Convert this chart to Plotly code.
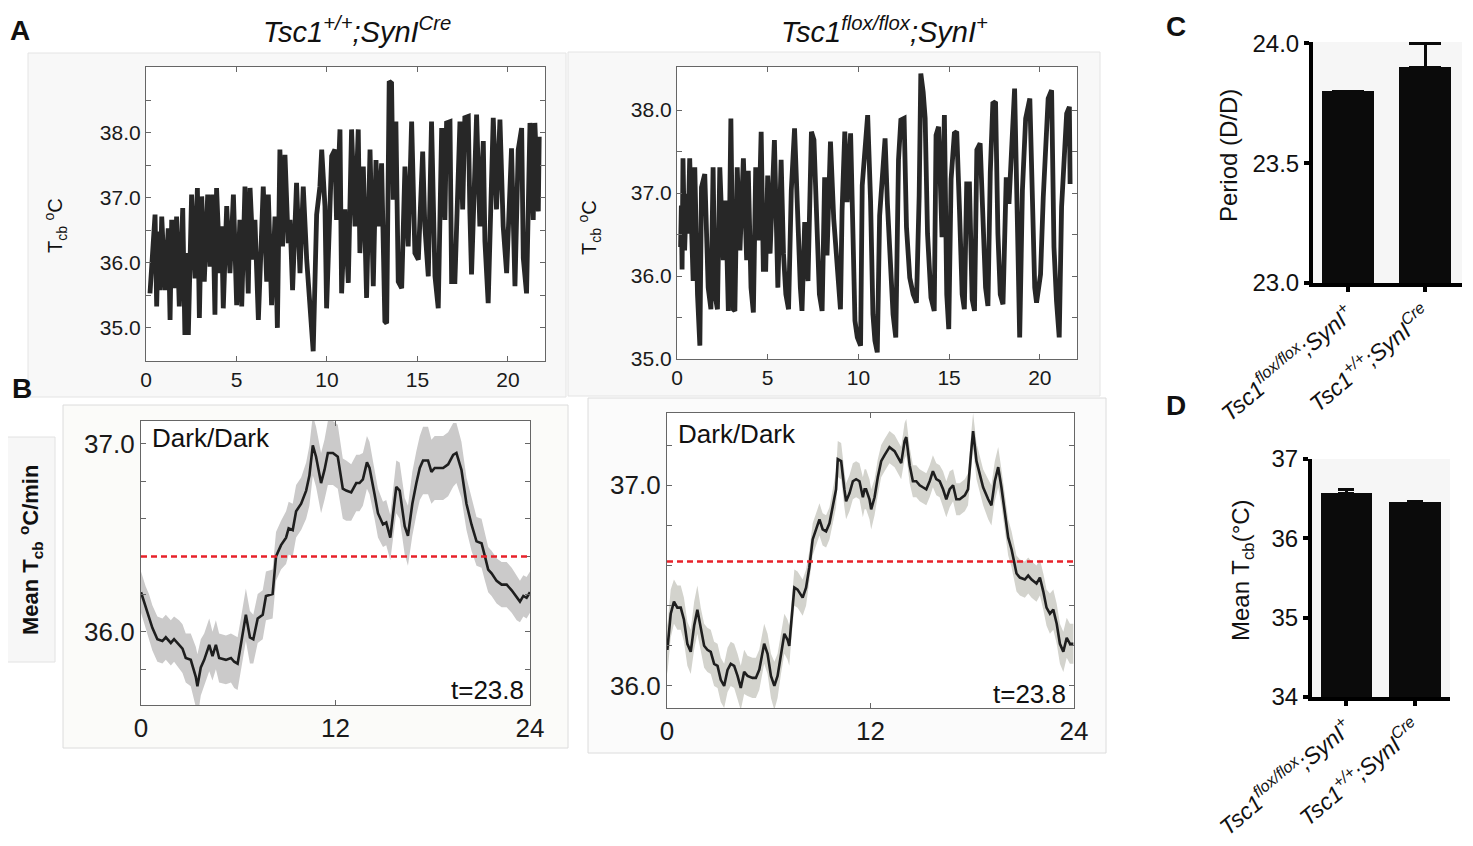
import plotly.graph_objects as go

W, H = 1473, 846
FONT = "Liberation Sans, Arial, sans-serif"

# ---------------- Panel A: raw core body temperature (days) ----------------
a_left_day = [0.22,0.50,0.59,0.68,0.77,0.87,1.05,1.23,1.33,1.42,1.60,1.69,1.84,2.03,2.15,2.25,2.34,2.52,2.71,2.84,
              2.95,3.08,3.22,3.41,3.54,3.68,3.81,3.90,4.09,4.18,4.27,4.46,4.64,4.83,5.01,5.19,5.29,5.47,5.65,5.75,
              5.93,6.02,6.21,6.48,6.67,6.76,6.94,7.13,7.26,7.40,7.55,7.68,7.86,7.96,8.10,8.32,8.51,8.69,8.88,9.06,
              9.24,9.43,9.61,9.71,9.89,9.98,10.17,10.26,10.44,10.53,10.72,10.81,10.99,11.18,11.36,11.55,11.73,11.82,12.01,12.19,
              12.38,12.56,12.71,12.84,13.02,13.20,13.30,13.44,13.57,13.66,13.81,13.94,14.13,14.31,14.49,14.68,14.86,15.05,15.29,15.41,
              15.60,15.78,15.97,16.15,16.34,16.52,16.61,16.80,16.89,17.07,17.35,17.50,17.62,17.81,17.90,17.99,18.27,18.45,18.64,18.73,
              18.91,19.19,19.37,19.56,19.74,19.93,20.20,20.39,20.57,20.76,20.85,21.03,21.22,21.40,21.49,21.68,21.73]
a_left_temp = [35.53,36.74,35.33,36.48,35.58,36.71,35.58,36.53,35.12,36.66,35.61,36.71,35.33,36.84,34.89,36.15,34.89,37.05,35.76,37.15,
               35.15,37.02,35.71,37.05,35.94,37.05,35.20,37.15,35.84,36.56,35.30,36.87,35.84,37.05,35.35,36.66,35.33,37.17,35.53,37.15,
               36.05,36.66,35.12,37.17,35.71,37.05,35.35,36.71,35.00,37.74,36.25,37.66,36.30,36.66,35.58,37.23,35.84,37.17,36.05,35.20,
               34.64,36.74,37.17,37.74,36.87,35.30,37.33,37.64,37.74,36.66,38.05,35.53,36.82,35.69,38.05,36.56,38.05,36.15,37.48,35.46,
               37.74,35.64,37.58,36.56,37.53,35.10,35.07,38.79,38.76,36.97,38.17,35.71,35.61,37.48,36.25,38.17,36.15,36.05,37.71,36.56,
               35.79,38.17,35.79,35.30,38.07,36.66,38.15,38.17,35.71,35.71,38.17,36.82,38.23,38.25,36.76,35.82,38.28,36.56,37.87,36.33,
               35.38,38.23,36.82,38.20,36.56,35.84,37.76,35.64,37.74,38.07,36.07,35.53,38.15,36.66,38.15,36.79,37.94]

a_right_day = [0.20,0.24,0.28,0.33,0.42,0.52,0.61,0.70,0.79,0.89,0.98,1.13,1.26,1.35,1.53,1.72,1.87,1.99,2.09,2.23,
               2.36,2.55,2.68,2.83,2.97,3.10,3.19,3.32,3.47,3.66,3.84,3.93,4.08,4.21,4.34,4.49,4.64,4.76,4.89,5.00,
               5.13,5.37,5.56,5.74,5.87,6.00,6.15,6.30,6.48,6.67,6.80,6.89,7.04,7.22,7.41,7.55,7.72,7.85,8.00,8.14,
               8.27,8.46,8.64,8.83,9.01,9.10,9.25,9.38,9.57,9.70,9.81,9.94,10.12,10.21,10.36,10.51,10.67,10.80,10.91,11.04,
               11.17,11.32,11.47,11.60,11.78,11.91,12.06,12.21,12.34,12.52,12.65,12.83,13.02,13.20,13.35,13.44,13.57,13.68,13.81,14.00,
               14.18,14.28,14.42,14.61,14.74,14.87,14.98,15.11,15.29,15.42,15.57,15.72,15.84,15.97,16.12,16.27,16.40,16.53,16.71,16.86,
               17.01,17.14,17.27,17.41,17.56,17.69,17.82,17.97,18.15,18.30,18.49,18.61,18.80,18.89,19.04,19.22,19.45,19.59,19.72,19.82,
               20.04,20.19,20.46,20.65,20.78,20.92,21.07,21.20,21.38,21.48,21.63,21.67]
a_right_temp = [36.35,36.85,36.08,37.42,36.31,36.99,36.51,37.42,36.67,35.94,37.31,35.78,35.16,37.07,37.23,35.86,35.60,37.31,35.78,35.60,
                37.31,36.19,36.91,35.58,37.90,35.60,35.58,37.31,36.31,37.42,36.19,37.27,35.86,35.56,37.31,36.43,37.74,36.08,36.08,37.21,
                36.27,37.64,35.86,37.40,36.27,35.78,35.60,37.03,37.78,36.51,35.86,35.58,36.65,35.94,37.74,37.64,36.75,35.78,35.58,37.19,
                36.25,37.62,36.69,36.10,35.60,36.79,37.74,36.89,37.72,36.51,35.46,35.26,35.16,37.09,37.56,37.94,36.91,35.54,35.22,35.08,
                36.73,37.23,37.66,36.87,36.10,35.54,35.26,37.40,37.88,37.90,36.59,35.98,35.78,35.68,36.97,38.44,38.22,37.90,36.51,35.74,
                35.58,37.70,37.80,36.47,37.94,35.78,35.36,37.17,37.72,37.74,36.81,35.78,35.60,37.11,37.11,35.72,35.58,37.52,37.60,36.69,
                35.86,35.64,37.25,38.08,38.10,36.51,35.78,35.66,37.19,36.87,37.94,38.26,36.27,35.26,37.03,37.90,38.14,36.79,35.86,35.68,
                36.02,36.95,38.14,38.24,36.35,35.70,35.26,36.83,37.48,37.96,38.04,37.11]

a_x_ticks = [0, 5, 10, 15, 20]
a_left_yticks = [35.0, 36.0, 37.0, 38.0]
a_left_minor = [35.5, 36.5, 37.5, 38.5]
a_right_yticks = [35.0, 36.0, 37.0, 38.0]
a_right_minor = [35.5, 36.5, 37.5]

# ---------------- Panel B: mean daily profile (hours) ----------------
b_left_hour = [0,0.29,0.49,0.70,1.01,1.32,1.53,1.84,2.04,2.35,2.56,2.76,
               3.07,3.38,3.48,3.69,3.90,4.21,4.41,4.62,4.82,5.24,5.55,5.75,5.96,6.16,6.47,6.72,6.93,7.20,7.51,7.71,
               8.12,8.33,8.64,8.95,9.11,9.36,9.57,9.88,
               10.19,10.39,10.60,10.80,11.11,11.32,11.53,11.84,12.14,12.45,12.66,12.97,
               13.28,13.48,13.69,13.94,14.10,14.41,14.62,
               14.93,15.13,15.38,15.59,15.75,15.96,16.27,16.47,16.74,
               16.99,17.20,17.40,17.71,17.92,18.12,18.33,18.64,18.95,19.26,19.46,19.77,
               20.08,20.39,20.70,21.01,21.22,21.42,21.63,21.94,22.25,22.56,22.87,23.18,23.38,23.59,23.79,24.0]
b_left_mean = [36.21,36.13,36.08,36.02,35.96,35.95,35.97,35.94,35.96,35.93,35.91,35.86,
               35.85,35.76,35.71,35.81,35.85,35.93,35.87,35.93,35.86,35.85,35.86,35.84,35.83,35.93,36.09,35.97,35.96,36.07,36.09,36.19,
               36.20,36.40,36.46,36.50,36.55,36.54,36.64,36.68,
               36.75,36.83,36.99,36.93,36.79,36.86,36.95,36.95,36.93,36.76,36.75,36.74,
               36.79,36.79,36.81,36.90,36.87,36.73,36.63,
               36.57,36.58,36.50,36.66,36.77,36.75,36.56,36.51,36.68,
               36.79,36.87,36.91,36.91,36.85,36.87,36.87,36.87,36.89,36.94,36.95,36.86,
               36.68,36.57,36.48,36.47,36.40,36.33,36.31,36.27,36.25,36.25,36.22,36.18,36.16,36.19,36.18,36.21]
b_left_sem = [0.11,0.11,0.12,0.12,0.12,0.12,0.12,0.12,0.12,0.13,0.13,0.13,
              0.14,0.16,0.17,0.15,0.14,0.14,0.13,0.13,0.13,0.13,0.13,0.14,0.14,0.14,0.14,0.14,0.13,0.13,0.13,0.13,
              0.13,0.13,0.13,0.14,0.14,0.14,0.14,0.14,
              0.15,0.16,0.16,0.16,0.16,0.16,0.17,0.17,0.17,0.16,0.16,0.15,
              0.15,0.15,0.14,0.14,0.14,0.13,0.13,
              0.12,0.12,0.12,0.13,0.14,0.15,0.15,0.16,0.17,
              0.17,0.17,0.18,0.18,0.17,0.17,0.17,0.17,0.17,0.17,0.16,0.15,
              0.14,0.14,0.13,0.13,0.13,0.12,0.12,0.12,0.12,0.12,0.12,0.12,0.11,0.11,0.11,0.11]
b_left_level = 36.40

b_right_hour = [0.0,0.02,0.22,0.41,0.61,0.81,1.00,1.20,1.40,1.60,1.79,1.99,2.19,2.38,2.58,2.78,2.98,3.17,3.37,3.57,
                3.76,3.96,4.16,4.35,4.55,4.75,5.04,5.24,5.44,5.73,5.93,6.13,6.33,6.52,6.72,6.92,7.11,7.21,7.31,
                7.51,7.70,8.00,8.20,8.39,8.59,8.79,8.99,9.18,9.38,9.58,9.77,9.97,
                10.07,10.27,10.46,10.56,10.76,10.96,11.15,11.35,11.55,11.65,11.74,11.94,12.04,12.24,12.43,12.63,12.83,
                13.12,13.42,13.62,13.81,14.01,14.11,14.31,14.50,14.70,14.90,15.09,15.29,15.49,15.68,15.88,16.08,16.28,16.47,
                16.67,16.87,17.06,17.26,17.56,17.75,
                17.95,18.05,18.25,18.44,18.64,18.94,19.13,19.33,19.53,19.72,19.92,
                20.12,20.32,20.41,20.61,20.81,21.10,21.30,21.50,21.79,21.99,22.19,22.38,22.58,22.78,22.98,23.17,23.37,23.57,23.76,23.96]
b_right_mean = [36.20,36.18,36.36,36.42,36.39,36.39,36.33,36.21,36.17,36.30,36.38,36.28,36.20,36.18,36.17,36.11,36.10,36.03,36.00,36.08,
                36.11,36.10,36.05,35.99,36.07,36.05,36.04,36.04,36.08,36.21,36.16,36.05,36.00,36.05,36.16,36.26,36.23,36.20,36.30,
                36.49,36.48,36.44,36.49,36.59,36.73,36.78,36.83,36.78,36.77,36.81,36.89,36.98,
                37.13,37.12,36.98,36.92,36.96,37.02,37.03,37.02,36.94,36.98,36.98,36.93,36.88,36.94,37.04,37.12,37.15,
                37.19,37.17,37.14,37.11,37.22,37.24,37.10,37.02,37.02,37.00,36.99,36.98,37.02,37.07,37.03,37.02,36.98,36.93,
                36.98,37.00,36.93,36.93,36.95,36.98,
                37.18,37.27,37.12,37.06,36.99,36.93,36.90,37.02,37.09,36.99,36.86,
                36.74,36.68,36.64,36.56,36.54,36.53,36.55,36.53,36.51,36.54,36.47,36.39,36.36,36.38,36.31,36.21,36.17,36.24,36.21,36.21]
b_right_sem = [0.12,0.12,0.12,0.11,0.11,0.11,0.11,0.11,0.11,0.12,0.12,0.11,0.11,0.11,0.11,0.11,0.11,0.11,0.11,0.11,
               0.11,0.11,0.11,0.11,0.11,0.10,0.10,0.10,0.10,0.10,0.10,0.11,0.12,0.11,0.10,0.10,0.10,0.10,0.09,
               0.09,0.09,0.09,0.09,0.08,0.08,0.08,0.08,0.08,0.08,0.08,0.09,0.09,
               0.09,0.09,0.09,0.09,0.09,0.09,0.09,0.09,0.10,0.10,0.10,0.10,0.10,0.09,0.09,0.08,0.08,
               0.08,0.08,0.08,0.08,0.09,0.09,0.09,0.08,0.08,0.08,0.08,0.08,0.08,0.08,0.08,0.08,0.09,0.09,
               0.09,0.08,0.08,0.08,0.08,0.08,
               0.09,0.09,0.09,0.09,0.09,0.10,0.10,0.10,0.10,0.09,0.09,
               0.09,0.09,0.09,0.09,0.09,0.09,0.09,0.09,0.09,0.09,0.09,0.09,0.10,0.10,0.10,0.10,0.10,0.10,0.10,0.10]
b_right_level = 36.62

b_x_ticks = [0, 12, 24]
b_left_yticks = [36.0, 37.0]
b_left_minor = [35.8, 36.2, 36.4, 36.6, 36.8]
b_right_yticks = [36.0, 37.0]
b_right_minor = [36.2, 36.4, 36.6, 36.8, 37.2]
period_note = "t=23.8"

# ---------------- Panels C and D: bar charts ----------------
genotypes = ["<i>Tsc1<sup>flox/flox</sup>;SynI<sup>+</sup></i>",
             "<i>Tsc1<sup>+/+</sup>;SynI<sup>Cre</sup></i>"]
period_values = [23.80, 23.90]
period_err = [0.0, 0.10]
period_ticks = [23.0, 23.5, 24.0]
period_labels = ["23.0", "23.5", "24.0"]
mean_t_values = [36.57, 36.46]
mean_t_err = [0.04, 0.005]
mean_t_ticks = [34, 35, 36, 37]

titles = ["<i>Tsc1<sup>+/+</sup>;SynI<sup>Cre</sup></i>",
          "<i>Tsc1<sup>flox/flox</sup>;SynI<sup>+</sup></i>"]

# the page body adds an 8 px offset; positions below are given in screen pixels
OFF = 8


def fx(p):
    return (p - OFF) / W


def fy(p):
    return 1 - (p - OFF) / H


fig = go.Figure()

# Panel A traces
fig.add_trace(go.Scatter(x=a_left_day, y=a_left_temp, mode="lines",
                         line=dict(color="#272727", width=4.8), xaxis="x", yaxis="y", showlegend=False))
fig.add_trace(go.Scatter(x=a_right_day, y=a_right_temp, mode="lines",
                         line=dict(color="#272727", width=4.8), xaxis="x2", yaxis="y2", showlegend=False))

# Panel B bands + mean lines
for hrs, mean, sem, xa, ya, band in [(b_left_hour, b_left_mean, b_left_sem, "x3", "y3", "#cbcaca"),
                                     (b_right_hour, b_right_mean, b_right_sem, "x4", "y4", "#d3d3cd")]:
    n = min(len(hrs), len(mean), len(sem))
    hh = hrs[:n]
    lo = [m - s for m, s in zip(mean[:n], sem[:n])]
    hi = [m + s for m, s in zip(mean[:n], sem[:n])]
    fig.add_trace(go.Scatter(x=hh, y=lo, mode="lines", line=dict(width=0, color=band),
                             xaxis=xa, yaxis=ya, showlegend=False, hoverinfo="skip"))
    fig.add_trace(go.Scatter(x=hh, y=hi, mode="lines", line=dict(width=0, color=band), fill="tonexty",
                             fillcolor=band, xaxis=xa, yaxis=ya, showlegend=False, hoverinfo="skip"))
    fig.add_trace(go.Scatter(x=hh, y=mean[:n], mode="lines", line=dict(color="#1e1e1e", width=2.6),
                             xaxis=xa, yaxis=ya, showlegend=False))

# Panel C bars
fig.add_trace(go.Bar(x=[0, 1], y=period_values, width=0.675, marker=dict(color="#0b0b0b", line=dict(width=0)),
                     error_y=dict(type="data", array=period_err, symmetric=False, arrayminus=[0, 0],
                                  color="#0b0b0b", thickness=3, width=16),
                     xaxis="x5", yaxis="y5", showlegend=False))
# Panel D bars
fig.add_trace(go.Bar(x=[0, 1], y=mean_t_values, width=0.745, marker=dict(color="#0b0b0b", line=dict(width=0)),
                     error_y=dict(type="data", array=mean_t_err, symmetric=False, arrayminus=[0, 0],
                                  color="#0b0b0b", thickness=3, width=8),
                     xaxis="x6", yaxis="y6", showlegend=False))


def frame_axis(domain, rng, tickvals, size, anchor, minor_vals=None):
    d = dict(domain=domain, range=rng, tickvals=tickvals, ticktext=[("%.1f" % v) if isinstance(v, float) else str(v) for v in tickvals],
             ticks="inside", ticklen=5, tickwidth=1, tickcolor="#666666", showline=True, mirror="ticks",
             linecolor="#666666", linewidth=1.2, showgrid=False, zeroline=False, anchor=anchor,
             automargin=False, tickfont=dict(family=FONT, size=size, color="#1a1a1a"), fixedrange=True)
    if minor_vals:
        d["minor"] = dict(tickvals=minor_vals, ticks="inside", ticklen=5, tickwidth=1, tickcolor="#666666",
                          showgrid=False)
    return d


def bar_axis(domain, rng, tickvals, ticktext, size, anchor, angle=None):
    d = dict(domain=domain, range=rng, tickvals=tickvals, ticktext=ticktext, ticks="outside",
             ticklen=5, tickwidth=4, tickcolor="#000000", showline=True, mirror=False,
             linecolor="#000000", linewidth=4, showgrid=False, zeroline=False, anchor=anchor,
             automargin=False, tickfont=dict(family=FONT, size=size, color="#111111"), fixedrange=True)
    if angle is not None:
        d["tickangle"] = angle
    return d


layout = dict(
    width=W, height=H, margin=dict(l=0, r=0, t=0, b=0, pad=0), autosize=False,
    paper_bgcolor="white", plot_bgcolor="rgba(0,0,0,0)", showlegend=False, bargap=0,
    font=dict(family=FONT, color="#111111"),
    xaxis=frame_axis([fx(146), fx(545)], [0, 22.05], a_x_ticks, 21, "y"),
    yaxis=frame_axis([fy(361), fy(67)], [34.49, 39.01], a_left_yticks, 21, "x", a_left_minor),
    xaxis2=frame_axis([fx(677), fx(1077)], [0, 22.05], a_x_ticks, 21, "y2"),
    yaxis2=frame_axis([fy(359), fy(67)], [35.0, 38.52], a_right_yticks, 21, "x2", a_right_minor),
    xaxis3=frame_axis([fx(141), fx(530)], [0, 24], b_x_ticks, 26, "y3"),
    yaxis3=frame_axis([fy(705), fy(421)], [35.61, 37.12], b_left_yticks, 26, "x3", b_left_minor),
    xaxis4=frame_axis([fx(667), fx(1074)], [0, 24], b_x_ticks, 26, "y4"),
    yaxis4=frame_axis([fy(708), fy(413)], [35.89, 37.36], b_right_yticks, 26, "x4", b_right_minor),
    xaxis5=bar_axis([fx(1313), fx(1462)], [-0.455, 1.48], [0, 1], genotypes, 23, "y5", -40),
    yaxis5=bar_axis([fy(283), fy(42)], [23.0, 24.005], period_ticks, period_labels, 24, "x5"),
    xaxis6=bar_axis([fx(1312), fx(1450)], [-0.5, 1.51], [0, 1], genotypes, 23, "y6", -40),
    yaxis6=bar_axis([fy(697), fy(459)], [34, 37], mean_t_ticks, [str(v) for v in mean_t_ticks], 24, "x6"),
)

shapes = []
# container backgrounds (paper coords)
for (x0, y0, x1, y1, fill, line) in [(28, 53, 566, 397, "#f8f8f8", "#e4e4e4"),
                                      (568, 52, 1100, 396, "#f8f8f8", "#e4e4e4"),
                                      (63, 405, 568, 748, "#fbfbf9", "#dcdcdc"),
                                      (3, 437, 55, 662, "#f7f7f7", "#e2e2e2"),
                                      (588, 398, 1106, 753, "#fbfbfb", "#dcdcdc")]:
    shapes.append(dict(type="rect", xref="paper", yref="paper", x0=fx(x0), x1=fx(x1), y0=fy(y1), y1=fy(y0),
                       fillcolor=fill, line=dict(color=line, width=1), layer="below"))
# plot-area fills
for xa, ya, fill in [("x", "y", "white"), ("x2", "y2", "white"), ("x3", "y3", "white"),
                     ("x4", "y4", "white"), ("x5", "y5", "#f6f6f6"), ("x6", "y6", "#f6f6f6")]:
    shapes.append(dict(type="rect", xref=xa + " domain", yref=ya + " domain", x0=0, x1=1, y0=0, y1=1,
                       fillcolor=fill, line=dict(width=0), layer="below"))
# mean level dashed lines
for xa, ya, lev in [("x3", "y3", b_left_level), ("x4", "y4", b_right_level)]:
    shapes.append(dict(type="line", xref=xa + " domain", yref=ya, x0=0, x1=1, y0=lev, y1=lev,
                       line=dict(color="#e8222a", width=2.5, dash="6px,4px"), layer="above"))
layout["shapes"] = shapes

ann = []


def text(x, y, s, size, xanchor="center", yanchor="middle", angle=0, color="#111111"):
    ann.append(dict(x=fx(x), y=fy(y), xref="paper", yref="paper", text=s, showarrow=False,
                    xanchor=xanchor, yanchor=yanchor, textangle=angle,
                    font=dict(family=FONT, size=size, color=color)))


for lab, x, y in [("A", 20, 31), ("B", 22, 388), ("C", 1176, 27), ("D", 1176, 405)]:
    text(x, y, "<b>" + lab + "</b>", 28)
text(357, 30, titles[0], 29)
text(884, 30, titles[1], 29)
text(56, 225, "T<sub>cb</sub> <sup>o</sup>C", 20, angle=-90)
text(590, 228, "T<sub>cb</sub> <sup>o</sup>C", 20, angle=-90)
text(30, 550, "<b>Mean T<sub>cb</sub> <sup>o</sup>C/min</b>", 22, angle=-90)
text(150, 438, "Dark/Dark", 26, xanchor="left")
text(676, 434, "Dark/Dark", 26, xanchor="left")
text(526, 690, period_note, 26, xanchor="right")
text(1068, 694, period_note, 26, xanchor="right")
text(1228, 156, "Period (D/D)", 24, angle=-90)
text(1242, 570, "Mean T<sub>cb</sub>(°C)", 24, angle=-90)
layout["annotations"] = ann

fig.update_layout(**layout)
fig.write_html("out.html")
